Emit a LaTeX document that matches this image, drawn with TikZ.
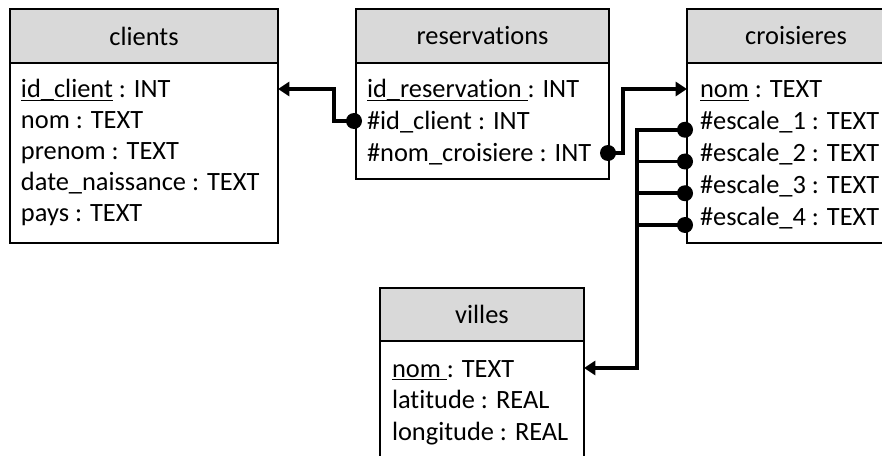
\documentclass[tikz,border=0pt]{standalone}
\usepackage{fontspec}
\setmainfont{Carlito}[Ligatures=NoCommon]
\usetikzlibrary{arrows.meta}

% underlined key, rule at the level of the underscore
\newcommand{\pkey}[1]{\setbox0\hbox{#1}\rlap{\rule[-2.4pt]{\wd0}{1pt}}\box0}

\tikzset{
	dbfont/.style={font=\fontsize{19.8pt}{24pt}\selectfont},
	head/.style={draw, fill=gray!30, line width=1.4pt, inner sep=0, outer sep=0, anchor=north west, dbfont},
	tbody/.style={draw, line width=1.4pt, inner sep=0, outer sep=0, anchor=north},
	field/.style={inner sep=0, outer sep=0, anchor=base west, text height=16pt, text depth=2.5pt, dbfont},
	link/.style={line width=2.7pt},
	tip/.style={-{Triangle[length=8.5pt,width=10.5pt]}}
}

\begin{document}
\begin{tikzpicture}[x=0.75pt,y=-0.75pt]
\useasboundingbox (0,0) rectangle (882,456);

% tables
\node[head, minimum width=201pt, minimum height=40.5pt] (clientsH) at (10,9) {clients};
\node[tbody, minimum width=201pt, minimum height=135pt] (clients) at (clientsH.south) {};

\node[head, minimum width=189.75pt, minimum height=40.5pt] (reservationsH) at (356,9) {reservations};
\node[tbody, minimum width=189.75pt, minimum height=87pt] (reservations) at (reservationsH.south) {};

\node[head, minimum width=163.5pt, minimum height=40.5pt, text width=125pt, align=center] (croisieresH) at (687,9) {croisieres};
\node[tbody, minimum width=163.5pt, minimum height=135pt] (croisieres) at (croisieresH.south) {};

\node[head, minimum width=153pt, minimum height=39.75pt] (villesH) at (380,288) {villes};
\node[tbody, minimum width=153pt, minimum height=96.75pt] (villes) at (villesH.south) {};

% fields
\foreach \txt [count=\i] in {\pkey{id\_client}\ : INT, nom : TEXT, prenom : TEXT, date\_naissance : TEXT, pays : TEXT} {
	\node[field] (c\i) at (21,{98+31*(\i-1)}) {\txt};
}
\foreach \txt [count=\i] in {\pkey{id\_reservation\ }: INT, \#id\_client : INT, \#nom\_croisiere : INT} {
	\node[field] (r\i) at (367,{98+32*(\i-1)}) {\txt};
}
\foreach \txt [count=\i] in {\pkey{nom}\ : TEXT, \#escale\_1 : TEXT, \#escale\_2 : TEXT, \#escale\_3 : TEXT, \#escale\_4 : TEXT} {
	\node[field] (k\i) at (700,{98+31.75*(\i-1)}) {\txt};
}
\foreach \txt [count=\i] in {\pkey{nom\ }: TEXT, latitude : REAL, longitude : REAL} {
	\node[field] (v\i) at (392,{377+31.5*(\i-1)}) {\txt};
}

% links
\fill (reservations.west |- r2) ++(-2,0) circle (6pt);
\draw[link,tip] (reservations.west |- r2) -- ++(-22,0) |- (clients.east |- c1);

\fill (reservations.east |- r3) ++(-1,0) circle (6pt);
\draw[link,tip] (reservations.east |- r3) -- ++(14,0) |- (croisieres.west |- k1);

\coordinate (bus) at (637,0);
\foreach \i in {2,...,5} {
	\fill (croisieres.west |- k\i.base) ++(-2,0) circle (6pt);
}
\draw[link,tip] (croisieres.west |- k2.base) -| (bus |- v1) -- (villes.east |- v1);
\foreach \i in {3,4,5} {
	\draw[link] (croisieres.west |- k\i.base) -- (bus |- k\i.base);
}

\end{tikzpicture}
\end{document}
